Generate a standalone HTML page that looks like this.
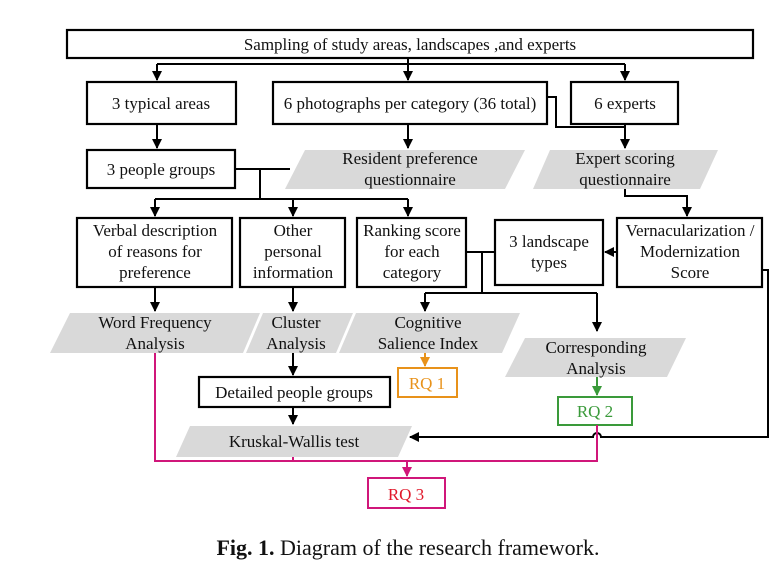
<!DOCTYPE html>
<html><head><meta charset="utf-8"><style>
body{margin:0;background:#fff;}
svg{display:block;}
text{font-family:"Liberation Serif",serif;font-size:17px;fill:#111;}
</style></head><body>
<svg width="777" height="563" viewBox="0 0 777 563" xmlns="http://www.w3.org/2000/svg">
<defs>
<marker id="ak" viewBox="0 0 10 10" refX="9" refY="5" markerWidth="5" markerHeight="5" orient="auto"><path d="M0,0L10,5L0,10z" fill="#000"/></marker>
<marker id="ao" viewBox="0 0 10 10" refX="9" refY="5" markerWidth="5" markerHeight="5" orient="auto"><path d="M0,0L10,5L0,10z" fill="#e8921a"/></marker>
<marker id="ag" viewBox="0 0 10 10" refX="9" refY="5" markerWidth="5" markerHeight="5" orient="auto"><path d="M0,0L10,5L0,10z" fill="#3a9a3a"/></marker>
<marker id="am" viewBox="0 0 10 10" refX="9" refY="5" markerWidth="5" markerHeight="5" orient="auto"><path d="M0,0L10,5L0,10z" fill="#d0167a"/></marker>
</defs>
<g fill="#d9d9d9">
<polygon points="305,150 525,150 505,189 285,189"/>
<polygon points="550,150 718,150 700,189 533,189"/>
<polygon points="70,313 260,313 243,353 50,353"/>
<polygon points="263,313 353,313 336,353 246,353"/>
<polygon points="356,313 520,313 502,353 339,353"/>
<polygon points="525,338 686,338 667,377 505,377"/>
<polygon points="190,426 412,426 398,457 176,457"/>
</g>
<g fill="none" stroke="#000" stroke-width="2.2">
<rect x="67" y="30" width="686" height="28"/>
<rect x="87" y="82" width="149" height="42"/>
<rect x="273" y="82" width="274" height="42"/>
<rect x="571" y="82" width="107" height="42"/>
<rect x="87" y="150" width="148" height="38"/>
<rect x="77" y="218" width="155" height="69"/>
<rect x="240" y="218" width="105" height="69"/>
<rect x="357" y="218" width="109" height="69"/>
<rect x="495" y="220" width="108" height="65"/>
<rect x="617" y="218" width="145" height="69"/>
<rect x="199" y="377" width="191" height="30"/>
</g>
<g fill="none" stroke="#000" stroke-width="2">
<path d="M408,58V64M157,64H625"/>
<path d="M157,64V80" marker-end="url(#ak)"/>
<path d="M408,64V80" marker-end="url(#ak)"/>
<path d="M625,64V80" marker-end="url(#ak)"/>
<path d="M157,124V148" marker-end="url(#ak)"/>
<path d="M408,124V148" marker-end="url(#ak)"/>
<path d="M547,97H556V127H625"/>
<path d="M625,124V148" marker-end="url(#ak)"/>
<path d="M235,169H290M260,169V199M155,199H408"/>
<path d="M155,199V216" marker-end="url(#ak)"/>
<path d="M293,199V216" marker-end="url(#ak)"/>
<path d="M408,199V216" marker-end="url(#ak)"/>
<path d="M625,189V196H687V216" marker-end="url(#ak)"/>
<path d="M617,252H605" marker-end="url(#ak)"/>
<path d="M466,252H495M482,252V293M425,293H597"/>
<path d="M425,293V311" marker-end="url(#ak)"/>
<path d="M597,293V331" marker-end="url(#ak)"/>
<path d="M155,287V311" marker-end="url(#ak)"/>
<path d="M293,287V311" marker-end="url(#ak)"/>
<path d="M293,353V375" marker-end="url(#ak)"/>
<path d="M293,407V424" marker-end="url(#ak)"/>
<path d="M762,270H768V437H601A4,4 0 0 0 593,437H410" marker-end="url(#ak)"/>
</g>
<path d="M425,353V366" stroke="#e8921a" stroke-width="2" fill="none" marker-end="url(#ao)"/>
<rect x="398" y="368" width="59" height="29" fill="none" stroke="#e8921a" stroke-width="2"/>
<path d="M597,377V395" stroke="#3a9a3a" stroke-width="2" fill="none" marker-end="url(#ag)"/>
<rect x="558" y="397" width="74" height="28" fill="none" stroke="#3a9a3a" stroke-width="2"/>
<g stroke="#d0167a" stroke-width="2" fill="none">
<path d="M155,353V461H597V425M293,457V461"/>
<path d="M407,461V476" marker-end="url(#am)"/>
<rect x="368" y="478" width="77" height="30"/>
</g>
<g text-anchor="middle">
<text x="410" y="50">Sampling of study areas, landscapes ,and experts</text>
<text x="161" y="109">3 typical areas</text>
<text x="410" y="109">6 photographs per category (36 total)</text>
<text x="625" y="109">6 experts</text>
<text x="161" y="175">3 people groups</text>
<text x="410" y="164">Resident preference</text>
<text x="410" y="185">questionnaire</text>
<text x="625" y="164">Expert scoring</text>
<text x="625" y="185">questionnaire</text>
<text x="155" y="236">Verbal description</text>
<text x="155" y="257">of reasons for</text>
<text x="155" y="278">preference</text>
<text x="293" y="236">Other</text>
<text x="293" y="257">personal</text>
<text x="293" y="278">information</text>
<text x="412" y="236">Ranking score</text>
<text x="412" y="257">for each</text>
<text x="412" y="278">category</text>
<text x="549" y="247">3 landscape</text>
<text x="549" y="268">types</text>
<text x="690" y="236">Vernacularization /</text>
<text x="690" y="257">Modernization</text>
<text x="690" y="278">Score</text>
<text x="155" y="328">Word Frequency</text>
<text x="155" y="349">Analysis</text>
<text x="296" y="328">Cluster</text>
<text x="296" y="349">Analysis</text>
<text x="428" y="328">Cognitive</text>
<text x="428" y="349">Salience Index</text>
<text x="596" y="353">Corresponding</text>
<text x="596" y="374">Analysis</text>
<text x="427" y="389" style="fill:#e8921a">RQ 1</text>
<text x="595" y="417" style="fill:#3a9a3a">RQ 2</text>
<text x="294" y="398">Detailed people groups</text>
<text x="294" y="447">Kruskal-Wallis test</text>
<text x="406" y="500" style="fill:#e0182a">RQ 3</text>
<text x="408" y="555" style="font-size:22px"><tspan font-weight="bold">Fig. 1.</tspan> Diagram of the research framework.</text>
</g>
</svg>
</body></html>
